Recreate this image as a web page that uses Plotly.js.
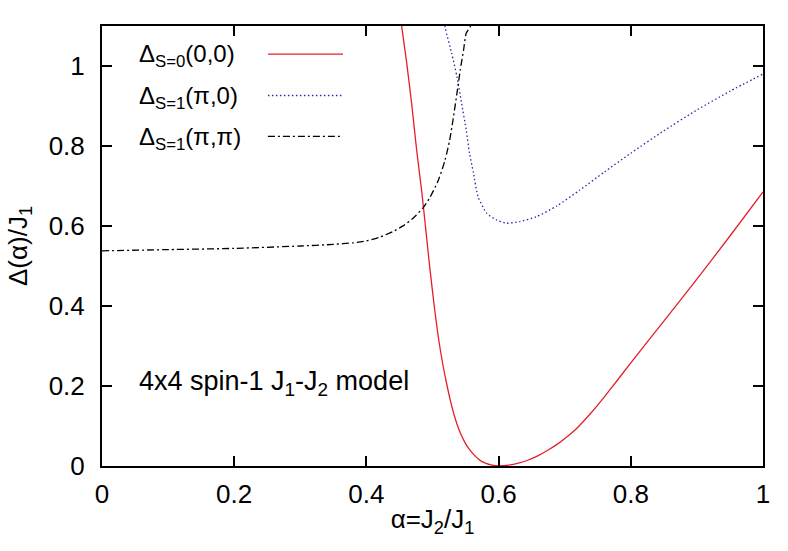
<!DOCTYPE html>
<html>
<head>
<meta charset="utf-8">
<script src="https://cdn.plot.ly/plotly-3.0.1.min.js"></script>
<style>html,body{margin:0;padding:0;background:#fff;}#chart{width:788px;height:551px;}</style>
</head>
<body>
<div id="chart"></div>
<script>
// Δ_{S=0}(0,0)
const alphaS0 = [0.45, 0.4535, 0.461, 0.469, 0.476, 0.484, 0.491, 0.496, 0.503, 0.509, 0.5155, 0.5215, 0.527, 0.532, 0.537, 0.542, 0.55, 0.557, 0.565, 0.572, 0.58, 0.59, 0.6, 0.615, 0.63, 0.645, 0.66, 0.675, 0.69, 0.705, 0.72, 0.74, 0.76, 0.78, 0.8, 0.85, 0.9, 0.95, 1.0];
const gapS0   = [1.15, 1.098, 1.007, 0.898, 0.79, 0.682, 0.573, 0.494, 0.395, 0.32, 0.255, 0.205, 0.164, 0.132, 0.105, 0.083, 0.056, 0.039, 0.024, 0.014, 0.007, 0.002, 0.0, 0.002, 0.007, 0.015, 0.026, 0.04, 0.056, 0.075, 0.097, 0.133, 0.173, 0.215, 0.258, 0.362, 0.467, 0.575, 0.685];
// Δ_{S=1}(π,0)
const alphaPi0 = [0.513, 0.519, 0.529, 0.537, 0.544, 0.551, 0.556, 0.562, 0.569, 0.582, 0.597, 0.612, 0.632, 0.657, 0.688, 0.723, 0.76, 0.8, 0.85, 0.9, 0.95, 1.0];
const gapPi0   = [1.2, 1.098, 1.032, 0.973, 0.907, 0.84, 0.782, 0.732, 0.673, 0.632, 0.615, 0.607, 0.611, 0.623, 0.65, 0.69, 0.735, 0.782, 0.838, 0.89, 0.937, 0.98];
// Δ_{S=1}(π,π)
const alphaPiPi = [0, 0.1, 0.2, 0.3, 0.35, 0.38, 0.4, 0.42, 0.44, 0.456, 0.471, 0.486, 0.496, 0.509, 0.519, 0.526, 0.531, 0.537, 0.542, 0.547, 0.551, 0.557, 0.562];
const gapPiPi   = [0.538, 0.541, 0.544, 0.55, 0.554, 0.558, 0.563, 0.572, 0.586, 0.601, 0.62, 0.646, 0.671, 0.715, 0.765, 0.815, 0.865, 0.932, 0.99, 1.04, 1.082, 1.098, 1.13];

const seriesNames = ['Δ<sub>S=0</sub>(0,0)', 'Δ<sub>S=1</sub>(π,0)', 'Δ<sub>S=1</sub>(π,π)'];
const tickValsX = [0, 0.2, 0.4, 0.6, 0.8, 1];
const tickTextX = ['0', '0.2', '0.4', '0.6', '0.8', '1'];
const tickValsY = [0, 0.2, 0.4, 0.6, 0.8, 1];
const tickTextY = ['0', '0.2', '0.4', '0.6', '0.8', '1'];

const colors = ['rgb(228,30,45)', 'rgb(40,40,170)', 'rgb(0,0,0)'];
const dashes = ['solid', '1.5px,2.5px', '7px,3px,2px,3px'];
const FONT = 'Liberation Sans, Arial, Helvetica, sans-serif';
const FS = 26;

const traces = [
  {x: alphaS0, y: gapS0, name: seriesNames[0], mode: 'lines', line: {color: colors[0], width: 1.3, dash: dashes[0], shape: 'spline', smoothing: 0.6}},
  {x: alphaPi0, y: gapPi0, name: seriesNames[1], mode: 'lines', line: {color: colors[1], width: 1.3, dash: dashes[1], shape: 'spline', smoothing: 0.6}},
  {x: alphaPiPi, y: gapPiPi, name: seriesNames[2], mode: 'lines', line: {color: colors[2], width: 1.3, dash: dashes[2], shape: 'spline', smoothing: 0.6}}
];

const legendY = [0.932, 0.838, 0.745];
const annotations = seriesNames.map((n, i) => ({
  xref: 'paper', yref: 'paper', x: 0.053, y: legendY[i], xanchor: 'left', yanchor: 'middle',
  text: n, showarrow: false, font: {family: FONT, size: 24, color: '#000'}
}));
annotations.push({
  xref: 'paper', yref: 'paper', x: 0.053, y: 0.189, xanchor: 'left', yanchor: 'middle',
  text: '4x4 spin-1 J<sub>1</sub>-J<sub>2</sub> model', showarrow: false,
  font: {family: FONT, size: 27, color: '#000'}
});
const shapes = legendY.map((yy, i) => ({
  type: 'line', xref: 'paper', yref: 'paper', x0: 0.251, x1: 0.3646, y0: yy + 0.004, y1: yy + 0.004,
  line: {color: colors[i], width: 1.3, dash: dashes[i]}
}));

const axisCommon = {
  showline: true, linecolor: '#000', linewidth: 2, mirror: 'ticks',
  ticks: 'inside', ticklen: 10, tickwidth: 2, tickcolor: '#000',
  showgrid: false, zeroline: false,
  tickfont: {family: FONT, size: FS, color: '#000'}
};

const layout = {
  width: 788, height: 551,
  margin: {l: 102, r: 25, t: 26, b: 85},
  paper_bgcolor: '#fff', plot_bgcolor: '#fff',
  showlegend: false,
  xaxis: Object.assign({}, axisCommon, {
    range: [0, 1], tickvals: tickValsX, ticktext: tickTextX, ticklabelstandoff: 4,
    title: {text: 'α=J<sub>2</sub>/J<sub>1</sub>', font: {family: FONT, size: FS, color: '#000'}, standoff: 2}
  }),
  yaxis: Object.assign({}, axisCommon, {
    range: [0, 1.1], tickvals: tickValsY, ticktext: tickTextY, ticklabelstandoff: 10,
    title: {text: 'Δ(α)/J<sub>1</sub>', font: {family: FONT, size: FS, color: '#000'}, standoff: 14}
  }),
  annotations: annotations,
  shapes: shapes
};

Plotly.newPlot('chart', traces, layout, {staticPlot: true, displayModeBar: false});
</script>
</body>
</html>
